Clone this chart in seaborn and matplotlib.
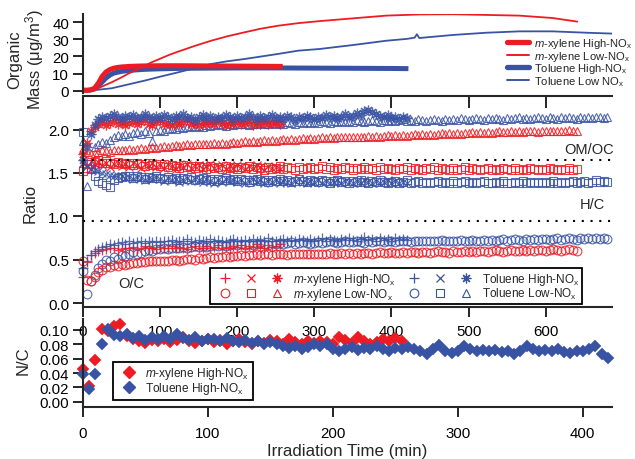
import numpy as np
import matplotlib
matplotlib.use("Agg")
import matplotlib.pyplot as plt
import seaborn as sns
from matplotlib.lines import Line2D
from matplotlib.legend_handler import HandlerTuple

RED = "#ED1C24"
BLUE = "#3953A4"

# ---------------- Organic mass (ug/m3), top axis time (min) ----------------
mass_mxh_t = [0, 5, 10, 15, 20, 25, 30, 35, 40, 45, 50, 60, 70, 80, 100, 130, 160, 200, 230, 259]
mass_mxh_v = [0.3, 0.2, 0.5, 1.5, 4.5, 8.5, 11.0, 12.4, 13.2, 13.6, 13.9, 14.2, 14.4, 14.5, 14.6, 14.6, 14.5, 14.4, 14.3, 14.2]
mass_th_t = [0, 5, 10, 15, 20, 25, 30, 35, 40, 50, 60, 80, 100, 130, 160, 200, 250, 300, 350, 400, 422]
mass_th_v = [0.3, 0.2, 0.4, 1.0, 2.8, 5.2, 7.5, 9.2, 10.3, 11.3, 11.9, 12.5, 12.8, 13.1, 13.2, 13.3, 13.3, 13.2, 13.1, 13.0, 12.9]
mass_mxl_t = [0, 13, 20, 30, 37, 50, 58, 70, 80, 90, 101, 112, 123, 145, 166, 187, 209, 231, 253, 279, 307,
              350, 393, 437, 480, 523, 566, 609, 641]
mass_mxl_v = [0.0, 0.0, 1.5, 3.5, 4.9, 7.8, 9.8, 12.4, 14.6, 16.8, 18.9, 21.0, 22.8, 26.2, 29.2, 31.8, 34.1, 36.3,
              38.0, 39.5, 40.7, 42.3, 43.9, 44.6, 44.7, 44.3, 43.9, 42.5, 40.4]
mass_tl_t = [0, 10, 20, 37, 60, 80, 100, 123, 145, 166, 187, 209, 231, 253, 279, 307, 350, 393, 420, 430, 433,
             436, 480, 523, 566, 609, 653, 686]
mass_tl_v = [0.0, 0.2, 0.6, 1.4, 3.8, 5.9, 8.2, 10.7, 13.2, 15.6, 17.2, 18.5, 20.0, 21.5, 23.4, 24.4, 26.7, 29.2,
             30.3, 31.0, 33.0, 30.8, 32.6, 33.9, 34.7, 34.7, 33.9, 33.4]

# ---------------- Elemental ratios, 5-min samples, top axis time ----------------
OC_mxh = [0.30, 0.47, 0.55, 0.58, 0.60, 0.61, 0.62, 0.64, 0.63, 0.61,
          0.62, 0.64, 0.63, 0.65, 0.62, 0.64, 0.66, 0.63, 0.64, 0.62,
          0.65, 0.63, 0.64, 0.66, 0.63, 0.65, 0.64, 0.62, 0.65, 0.66,
          0.64, 0.63, 0.66, 0.64, 0.65, 0.67, 0.64, 0.65, 0.63, 0.66,
          0.65, 0.67, 0.64, 0.66, 0.65, 0.68, 0.66, 0.64, 0.67, 0.65,
          0.66, 0.68]
HC_mxh = [1.62, 1.58, 1.55, 1.60, 1.63, 1.59, 1.61, 1.57, 1.60, 1.62,
          1.58, 1.60, 1.57, 1.61, 1.59, 1.56, 1.60, 1.58, 1.61, 1.57,
          1.59, 1.56, 1.60, 1.58, 1.55, 1.59, 1.57, 1.60, 1.56, 1.58,
          1.59, 1.55, 1.58, 1.60, 1.56, 1.57, 1.59, 1.55, 1.58, 1.56,
          1.59, 1.57, 1.55, 1.58, 1.56, 1.59, 1.57, 1.54, 1.58, 1.56,
          1.57, 1.55]
OMOC_mxh = [1.72, 1.85, 1.98, 2.03, 2.06, 2.09, 2.05, 2.08, 2.11, 2.06,
            2.09, 2.05, 2.08, 2.10, 2.06, 2.09, 2.12, 2.07, 2.05, 2.09,
            2.11, 2.06, 2.08, 2.05, 2.10, 2.07, 2.09, 2.12, 2.06, 2.08,
            2.05, 2.10, 2.07, 2.09, 2.06, 2.11, 2.08, 2.05, 2.09, 2.07,
            2.10, 2.06, 2.08, 2.11, 2.05, 2.09, 2.07, 2.10, 2.06, 2.08,
            2.09, 2.06]

OC_mxl = [0.48, 0.26, 0.25, 0.30, 0.36, 0.38, 0.42, 0.41, 0.44, 0.43,
          0.45, 0.44, 0.45, 0.46, 0.46, 0.47, 0.47, 0.48, 0.48, 0.49,
          0.49, 0.48, 0.49, 0.50, 0.50, 0.49, 0.50, 0.51, 0.51, 0.50,
          0.52, 0.51, 0.52, 0.53, 0.52, 0.53, 0.53, 0.54, 0.53, 0.54,
          0.54, 0.55, 0.54, 0.55, 0.55, 0.56, 0.55, 0.56, 0.56, 0.55,
          0.56, 0.57, 0.56, 0.55, 0.57, 0.56, 0.57, 0.56, 0.57, 0.57,
          0.56, 0.57, 0.57, 0.56, 0.58, 0.57, 0.57, 0.58, 0.57, 0.58,
          0.57, 0.58, 0.57, 0.58, 0.58, 0.57, 0.58, 0.59, 0.58, 0.58,
          0.59, 0.58, 0.58, 0.59, 0.58, 0.59, 0.59, 0.58, 0.59, 0.59,
          0.58, 0.59, 0.60, 0.59, 0.59, 0.58, 0.60, 0.59, 0.59, 0.60,
          0.59, 0.60, 0.59, 0.60, 0.60, 0.59, 0.60, 0.61, 0.60, 0.59,
          0.60, 0.61, 0.60, 0.60, 0.61, 0.60, 0.61, 0.60, 0.61, 0.61,
          0.60, 0.61, 0.62, 0.61, 0.60, 0.61, 0.62, 0.61, 0.60]
HC_mxl = [1.52, 1.56, 1.60, 1.63, 1.65, 1.62, 1.64, 1.61, 1.60, 1.63,
          1.62, 1.60, 1.61, 1.59, 1.62, 1.60, 1.58, 1.61, 1.59, 1.60,
          1.58, 1.60, 1.57, 1.59, 1.58, 1.56, 1.59, 1.57, 1.58, 1.56,
          1.58, 1.57, 1.55, 1.58, 1.56, 1.57, 1.55, 1.58, 1.56, 1.57,
          1.55, 1.57, 1.56, 1.58, 1.55, 1.57, 1.56, 1.54, 1.57, 1.55,
          1.56, 1.58, 1.55, 1.57, 1.56, 1.54, 1.57, 1.55, 1.56, 1.57,
          1.55, 1.56, 1.58, 1.55, 1.57, 1.54, 1.56, 1.55, 1.57, 1.56,
          1.54, 1.56, 1.55, 1.57, 1.55, 1.56, 1.54, 1.57, 1.55, 1.56,
          1.55, 1.53, 1.56, 1.55, 1.57, 1.54, 1.56, 1.55, 1.53, 1.56,
          1.55, 1.57, 1.54, 1.56, 1.55, 1.53, 1.56, 1.54, 1.55, 1.57,
          1.54, 1.56, 1.55, 1.53, 1.55, 1.56, 1.54, 1.55, 1.53, 1.56,
          1.55, 1.54, 1.56, 1.53, 1.55, 1.54, 1.56, 1.55, 1.53, 1.55,
          1.54, 1.56, 1.55, 1.53, 1.55, 1.54, 1.56, 1.54, 1.55]
OMOC_mxl = [1.78, 1.74, 1.72, 1.73, 1.74, 1.76, 1.75, 1.74, 1.76, 1.77,
            1.77, 1.76, 1.78, 1.77, 1.78, 1.79, 1.78, 1.79, 1.80, 1.79,
            1.80, 1.81, 1.80, 1.81, 1.82, 1.81, 1.82, 1.83, 1.82, 1.83,
            1.83, 1.84, 1.83, 1.84, 1.85, 1.84, 1.85, 1.84, 1.85, 1.86,
            1.85, 1.86, 1.87, 1.86, 1.87, 1.86, 1.87, 1.88, 1.87, 1.88,
            1.87, 1.88, 1.89, 1.88, 1.89, 1.88, 1.89, 1.90, 1.89, 1.90,
            1.89, 1.90, 1.91, 1.90, 1.91, 1.90, 1.91, 1.92, 1.91, 1.92,
            1.91, 1.92, 1.91, 1.92, 1.93, 1.92, 1.93, 1.92, 1.93, 1.94,
            1.93, 1.94, 1.93, 1.94, 1.93, 1.94, 1.95, 1.94, 1.95, 1.94,
            1.95, 1.94, 1.95, 1.96, 1.95, 1.96, 1.95, 1.96, 1.95, 1.96,
            1.96, 1.97, 1.96, 1.97, 1.96, 1.97, 1.96, 1.97, 1.98, 1.97,
            1.97, 1.98, 1.97, 1.98, 1.97, 1.98, 1.99, 1.98, 1.97, 1.98,
            1.98, 1.99, 1.98, 1.99, 1.98, 1.99, 2.00, 1.99, 1.99]

OC_th = [0.40, 0.48, 0.55, 0.60, 0.62, 0.65, 0.66, 0.68, 0.67, 0.69,
         0.70, 0.68, 0.71, 0.69, 0.70, 0.72, 0.69, 0.71, 0.70, 0.72,
         0.70, 0.72, 0.71, 0.73, 0.70, 0.72, 0.71, 0.74, 0.72, 0.70,
         0.73, 0.71, 0.72, 0.74, 0.71, 0.73, 0.72, 0.70, 0.73, 0.74,
         0.72, 0.71, 0.73, 0.72, 0.74, 0.71, 0.73, 0.72, 0.75, 0.72,
         0.71, 0.73, 0.74, 0.72, 0.73, 0.71, 0.74, 0.73, 0.72, 0.74,
         0.72, 0.73, 0.75, 0.72, 0.74, 0.73, 0.71, 0.74, 0.73, 0.75,
         0.73, 0.72, 0.74, 0.76, 0.73, 0.74, 0.72, 0.75, 0.73, 0.74,
         0.72, 0.75, 0.73, 0.74, 0.73]
HC_th = [1.62, 1.58, 1.55, 1.53, 1.52, 1.50, 1.49, 1.48, 1.47, 1.46,
         1.46, 1.44, 1.45, 1.43, 1.45, 1.44, 1.42, 1.44, 1.43, 1.45,
         1.43, 1.41, 1.44, 1.42, 1.43, 1.40, 1.42, 1.44, 1.41, 1.43,
         1.42, 1.40, 1.43, 1.41, 1.39, 1.42, 1.40, 1.43, 1.41, 1.42,
         1.40, 1.42, 1.39, 1.41, 1.43, 1.40, 1.42, 1.39, 1.41, 1.40,
         1.42, 1.39, 1.41, 1.40, 1.38, 1.41, 1.43, 1.40, 1.39, 1.41,
         1.40, 1.42, 1.39, 1.41, 1.38, 1.40, 1.42, 1.39, 1.41, 1.40,
         1.38, 1.41, 1.39, 1.42, 1.40, 1.38, 1.41, 1.39, 1.40, 1.42,
         1.39, 1.41, 1.38, 1.40, 1.39]
OMOC_th = [1.65, 1.80, 1.95, 2.05, 2.12, 2.15, 2.13, 2.16, 2.18, 2.14,
           2.12, 2.16, 2.14, 2.17, 2.13, 2.15, 2.18, 2.14, 2.12, 2.16,
           2.13, 2.17, 2.15, 2.12, 2.16, 2.14, 2.18, 2.13, 2.15, 2.11,
           2.14, 2.17, 2.13, 2.16, 2.12, 2.15, 2.13, 2.17, 2.14, 2.12,
           2.16, 2.13, 2.15, 2.18, 2.14, 2.12, 2.16, 2.13, 2.15, 2.17,
           2.13, 2.15, 2.12, 2.16, 2.14, 2.11, 2.15, 2.13, 2.16, 2.14,
           2.12, 2.15, 2.13, 2.17, 2.14, 2.16, 2.13, 2.15, 2.18, 2.14,
           2.16, 2.19, 2.17, 2.21, 2.23, 2.20, 2.18, 2.16, 2.14, 2.17,
           2.13, 2.15, 2.12, 2.14, 2.13]

OC_tl = [0.37, 0.10, 0.25, 0.32, 0.40, 0.45, 0.50, 0.48, 0.53, 0.51,
         0.55, 0.54, 0.57, 0.59, 0.56, 0.58, 0.60, 0.61, 0.60, 0.62,
         0.62, 0.63, 0.62, 0.64, 0.63, 0.64, 0.65, 0.64, 0.65, 0.66,
         0.65, 0.66, 0.65, 0.66, 0.67, 0.66, 0.67, 0.66, 0.67, 0.68,
         0.67, 0.68, 0.67, 0.68, 0.67, 0.68, 0.69, 0.68, 0.67, 0.69,
         0.68, 0.69, 0.68, 0.69, 0.70, 0.68, 0.69, 0.70, 0.69, 0.68,
         0.69, 0.70, 0.69, 0.70, 0.71, 0.70, 0.69, 0.70, 0.71, 0.70,
         0.70, 0.71, 0.70, 0.69, 0.71, 0.70, 0.71, 0.72, 0.70, 0.71,
         0.71, 0.70, 0.71, 0.72, 0.71, 0.70, 0.72, 0.71, 0.72, 0.71,
         0.72, 0.71, 0.72, 0.73, 0.71, 0.72, 0.71, 0.72, 0.73, 0.72,
         0.72, 0.73, 0.72, 0.71, 0.73, 0.72, 0.73, 0.72, 0.73, 0.74,
         0.72, 0.73, 0.74, 0.73, 0.72, 0.74, 0.73, 0.74, 0.73, 0.74,
         0.74, 0.73, 0.74, 0.75, 0.73, 0.74, 0.75, 0.74, 0.73, 0.75,
         0.74, 0.75, 0.74, 0.75, 0.74, 0.75, 0.74]
HC_tl = [1.97, 1.60, 1.55, 1.47, 1.41, 1.39, 1.36, 1.34, 1.42, 1.44,
         1.45, 1.47, 1.46, 1.44, 1.46, 1.45, 1.43, 1.45, 1.44, 1.46,
         1.44, 1.43, 1.45, 1.43, 1.44, 1.42, 1.44, 1.43, 1.45, 1.42,
         1.43, 1.44, 1.42, 1.43, 1.41, 1.43, 1.42, 1.44, 1.42, 1.43,
         1.41, 1.43, 1.42, 1.40, 1.42, 1.43, 1.41, 1.42, 1.40, 1.42,
         1.41, 1.43, 1.41, 1.42, 1.40, 1.41, 1.43, 1.41, 1.40, 1.42,
         1.41, 1.40, 1.42, 1.41, 1.39, 1.41, 1.42, 1.40, 1.41, 1.39,
         1.41, 1.40, 1.42, 1.40, 1.39, 1.41, 1.40, 1.42, 1.40, 1.39,
         1.40, 1.41, 1.39, 1.40, 1.42, 1.39, 1.40, 1.41, 1.39, 1.40,
         1.38, 1.40, 1.41, 1.39, 1.40, 1.38, 1.41, 1.39, 1.40, 1.41,
         1.39, 1.40, 1.38, 1.40, 1.41, 1.39, 1.38, 1.40, 1.39, 1.41,
         1.39, 1.38, 1.40, 1.39, 1.41, 1.38, 1.40, 1.39, 1.40, 1.38,
         1.40, 1.39, 1.41, 1.39, 1.40, 1.38, 1.40, 1.41, 1.39, 1.40,
         1.41, 1.39, 1.40, 1.42, 1.40, 1.41, 1.40]
OMOC_tl = [1.87, 1.35, 1.60, 1.80, 1.84, 1.86, 1.85, 1.88, 1.92, 1.94,
           1.93, 1.95, 1.93, 1.96, 1.97, 1.95, 1.98, 1.96, 1.87, 1.99,
           2.00, 1.99, 2.01, 2.02, 2.01, 2.03, 2.02, 2.03, 2.04, 2.03,
           2.04, 2.03, 2.05, 2.04, 2.05, 2.06, 2.05, 2.04, 2.06, 2.05,
           2.06, 2.07, 2.06, 2.05, 2.07, 2.06, 2.08, 2.07, 2.06, 2.08,
           2.07, 2.08, 2.07, 2.09, 2.08, 2.07, 2.09, 2.08, 2.09, 2.08,
           2.09, 2.08, 2.10, 2.09, 2.08, 2.10, 2.09, 2.10, 2.09, 2.10,
           2.09, 2.11, 2.10, 2.09, 2.10, 2.11, 2.10, 2.09, 2.11, 2.10,
           2.11, 2.10, 2.11, 2.12, 2.10, 2.11, 2.10, 2.12, 2.11, 2.10,
           2.11, 2.12, 2.11, 2.10, 2.12, 2.11, 2.12, 2.11, 2.13, 2.12,
           2.11, 2.12, 2.13, 2.12, 2.11, 2.13, 2.12, 2.13, 2.12, 2.11,
           2.13, 2.12, 2.13, 2.14, 2.12, 2.13, 2.12, 2.13, 2.14, 2.13,
           2.12, 2.14, 2.13, 2.12, 2.14, 2.13, 2.14, 2.13, 2.12, 2.14,
           2.13, 2.14, 2.13, 2.15, 2.14, 2.13, 2.14]

# ---------------- N/C, 5-min samples, bottom axis time ----------------
NC_mxh = [0.045, 0.022, 0.058, 0.101, 0.098, 0.106, 0.108, 0.092, 0.088, 0.085,
          0.082, 0.086, 0.084, 0.088, 0.083, 0.086, 0.090, 0.084, 0.082, 0.085,
          0.087, 0.083, 0.086, 0.081, 0.084, 0.088, 0.083, 0.080, 0.085, 0.082,
          0.086, 0.084, 0.081, 0.087, 0.083, 0.080, 0.084, 0.082, 0.085, 0.083,
          0.081, 0.090, 0.086, 0.082, 0.090, 0.085, 0.081, 0.083, 0.087, 0.084,
          0.089, 0.085]
NC_th = [0.038, 0.018, 0.038, 0.080, 0.101, 0.093, 0.091, 0.094, 0.089, 0.092,
         0.086, 0.090, 0.087, 0.091, 0.088, 0.094, 0.089, 0.086, 0.090, 0.085,
         0.088, 0.087, 0.084, 0.089, 0.085, 0.083, 0.086, 0.082, 0.085, 0.081,
         0.083, 0.080, 0.078, 0.075, 0.077, 0.074, 0.076, 0.080, 0.078, 0.081,
         0.074, 0.070, 0.073, 0.076, 0.072, 0.075, 0.073, 0.078, 0.074, 0.071,
         0.075, 0.073, 0.076, 0.074, 0.070, 0.067, 0.073, 0.079, 0.070, 0.068,
         0.071, 0.077, 0.074, 0.071, 0.072, 0.070, 0.072, 0.069, 0.071, 0.066,
         0.070, 0.078, 0.074, 0.071, 0.072, 0.070, 0.073, 0.069, 0.068, 0.071,
         0.070, 0.073, 0.077, 0.067, 0.061]

t_mxh = 5 * np.arange(len(OC_mxh))
t_mxl = 5 * np.arange(len(OC_mxl))
t_th = 5 * np.arange(len(OC_th))
t_tl = 5 * np.arange(len(OC_tl))
tnc_mxh = 5 * np.arange(len(NC_mxh))
tnc_th = 5 * np.arange(len(NC_th))

lab_mxh = r"$\mathit{m}$-xylene High-NO$_\mathrm{x}$"
lab_mxl = r"$\mathit{m}$-xylene Low-NO$_\mathrm{x}$"
lab_th = r"Toluene High-NO$_\mathrm{x}$"
lab_tl = r"Toluene Low-NO$_\mathrm{x}$"
lab_tl_mass = r"Toluene Low NO$_\mathrm{x}$"

# ---------------- style ----------------
sns.set_style("ticks")
plt.rcParams["font.family"] = ["Liberation Sans", "DejaVu Sans"]
plt.rcParams["mathtext.fontset"] = "custom"
plt.rcParams["mathtext.rm"] = "Liberation Sans"
plt.rcParams["mathtext.it"] = "Liberation Sans:italic"
plt.rcParams["mathtext.bf"] = "Liberation Sans:bold"
plt.rcParams["axes.linewidth"] = 1.5

fig = plt.figure(figsize=(6.35, 4.6), dpi=100)


def fx(px):
    return px / 635.0


def fy(py):
    return 1 - py / 460.0


L, R = 83, 612
W = fx(R) - fx(L)
ax_mass = fig.add_axes([fx(L), fy(97), W, fy(15) - fy(97)])
ax_ratio = fig.add_axes([fx(L), fy(308), W, fy(97) - fy(308)])
ax_nc = fig.add_axes([fx(L), fy(408), W, fy(320) - fy(408)])
for ax in (ax_mass, ax_ratio, ax_nc):
    ax.patch.set_alpha(0)
    ax.spines["top"].set_visible(False)
    ax.spines["right"].set_visible(False)
    for s in ("left", "bottom"):
        ax.spines[s].set_linewidth(1.5)
    ax.tick_params(axis="both", direction="out", length=7.5, width=1.2,
                   labelsize=10.8, colors="k", pad=2.5)

# ---------------- mass panel ----------------
sns.lineplot(x=mass_th_t, y=mass_th_v, ax=ax_mass, color=BLUE, linewidth=3.6, solid_capstyle="butt")
sns.lineplot(x=mass_tl_t, y=mass_tl_v, ax=ax_mass, color=BLUE, linewidth=1.3)
sns.lineplot(x=mass_mxl_t, y=mass_mxl_v, ax=ax_mass, color=RED, linewidth=1.3)
sns.lineplot(x=mass_mxh_t, y=mass_mxh_v, ax=ax_mass, color=RED, linewidth=3.6, solid_capstyle="butt")
ax_mass.set_xlim(0, 686)
ax_mass.set_ylim(-3.1, 44.85)
ax_mass.spines["left"].set_bounds(-1.35, 44.85)
ax_mass.set_yticks([0, 10, 20, 30, 40])
ax_mass.set_xticks(range(0, 700, 100))
ax_mass.tick_params(axis="x", labelbottom=False, length=8.5)
ax_mass.set_xlabel("")
ax_mass.set_ylabel("")

mass_handles = [Line2D([], [], color=RED, lw=3.8), Line2D([], [], color=RED, lw=1.4),
                Line2D([], [], color=BLUE, lw=3.8), Line2D([], [], color=BLUE, lw=1.4)]
fig.legend(mass_handles, [lab_mxh, lab_mxl, lab_th, lab_tl_mass], loc="upper left",
           bbox_to_anchor=(fx(507), fy(37)), bbox_transform=fig.transFigure,
           frameon=False, fontsize=8.1, handlelength=1.95, handletextpad=0.45,
           labelspacing=-0.12, borderpad=0, borderaxespad=0)

# ---------------- ratio panel ----------------
def pts(ax, t, v, color, marker, ms=6.3, mew=0.8):
    sns.lineplot(x=t, y=v, ax=ax, color=color, marker=marker, linestyle="none",
                 markersize=ms, markerfacecolor="none", markeredgecolor=color,
                 markeredgewidth=mew, clip_on=False, alpha=0.85)

STAR = (8, 2, 0)
pts(ax_ratio, t_tl, OC_tl, BLUE, "o")
pts(ax_ratio, t_tl, HC_tl, BLUE, "s")
pts(ax_ratio, t_tl, OMOC_tl, BLUE, "^")
pts(ax_ratio, t_mxl, OC_mxl, RED, "o")
pts(ax_ratio, t_mxl, HC_mxl, RED, "s")
pts(ax_ratio, t_mxl, OMOC_mxl, RED, "^")
pts(ax_ratio, t_mxh, OC_mxh, RED, "+", ms=7, mew=0.9)
pts(ax_ratio, t_mxh, HC_mxh, RED, "x", ms=6, mew=0.9)
pts(ax_ratio, t_mxh, OMOC_mxh, RED, STAR, ms=7, mew=0.9)
pts(ax_ratio, t_th, OC_th, BLUE, "+", ms=7, mew=0.9)
pts(ax_ratio, t_th, HC_th, BLUE, "x", ms=6, mew=0.9)
pts(ax_ratio, t_th, OMOC_th, BLUE, STAR, ms=7, mew=0.9)

ax_ratio.axhline(1.65, color="k", linestyle=(0, (1, 3.2)), linewidth=1.5, zorder=4)
ax_ratio.axhline(0.95, color="k", linestyle=(0, (1, 3.2)), linewidth=1.5, zorder=4)
ax_ratio.set_xlim(0, 686)
ax_ratio.set_ylim(-0.046, 2.388)
ax_ratio.set_yticks([0.0, 0.5, 1.0, 1.5, 2.0])
ax_ratio.set_yticklabels(["0.0", "0.5", "1.0", "1.5", "2.0"])
ax_ratio.set_xticks(range(0, 700, 100))
ax_ratio.tick_params(axis="x", pad=5)
ax_ratio.set_xlabel("")
ax_ratio.set_ylabel("")
ax_ratio.text(656, 1.776, "OM/OC", fontsize=10.5, ha="center", va="center")
ax_ratio.text(661, 1.14, "H/C", fontsize=10.5, ha="center", va="center")
ax_ratio.text(62, 0.23, "O/C", fontsize=10.5, ha="center", va="center")


def mk(marker, color, ms=6.3, mew=0.8):
    return Line2D([], [], marker=marker, linestyle="none", color=color, markersize=ms,
                  markerfacecolor="none", markeredgecolor=color, markeredgewidth=mew)


h_mxh = (mk("+", RED, 7, 0.9), mk("x", RED, 6, 0.9), mk(STAR, RED, 7, 0.9))
h_mxl = (mk("o", RED), mk("s", RED), mk("^", RED))
h_th = (mk("+", BLUE, 7, 0.9), mk("x", BLUE, 6, 0.9), mk(STAR, BLUE, 7, 0.9))
h_tl = (mk("o", BLUE), mk("s", BLUE), mk("^", BLUE))
leg = ax_ratio.legend([h_mxh, h_mxl, h_th, h_tl], [lab_mxh, lab_mxl, lab_th, lab_tl], ncol=2,
                      handler_map={tuple: HandlerTuple(ndivide=None, pad=0)},
                      loc="lower left", bbox_to_anchor=(fx(210), fy(305)),
                      bbox_transform=fig.transFigure, borderaxespad=0, frameon=True,
                      fancybox=False, edgecolor="k", framealpha=1, fontsize=8.5,
                      handlelength=6.6, handletextpad=0.2, columnspacing=0.5,
                      borderpad=0.2, labelspacing=-0.08, handleheight=0.6)
leg.get_frame().set_linewidth(1.3)

# ---------------- N/C panel ----------------
sns.lineplot(x=tnc_mxh, y=NC_mxh, ax=ax_nc, color=RED, marker="D", linestyle="none",
             markersize=6.4, markeredgecolor=RED, markeredgewidth=0.3, clip_on=False)
sns.lineplot(x=tnc_th, y=NC_th, ax=ax_nc, color=BLUE, marker="D", linestyle="none",
             markersize=6.4, markeredgecolor=BLUE, markeredgewidth=0.3, clip_on=False)
ax_nc.set_xlim(0, 423.4)
ax_nc.set_ylim(-0.0074, 0.1153)
ax_nc.set_yticks([0.0, 0.02, 0.04, 0.06, 0.08, 0.10])
ax_nc.set_yticklabels(["0.00", "0.02", "0.04", "0.06", "0.08", "0.10"])
ax_nc.set_xticks([0, 100, 200, 300, 400])
ax_nc.tick_params(axis="x", pad=6)
ax_nc.set_xlabel("")
ax_nc.set_ylabel("")
nc_handles = [Line2D([], [], marker="D", linestyle="none", color=RED, markersize=6.4),
              Line2D([], [], marker="D", linestyle="none", color=BLUE, markersize=6.4)]
leg2 = ax_nc.legend(nc_handles, [lab_mxh, lab_th], loc="lower left",
                    bbox_to_anchor=(fx(113), fy(401)), bbox_transform=fig.transFigure,
                    borderaxespad=0, frameon=True, fancybox=False, edgecolor="k",
                    framealpha=1, fontsize=8.6, handlelength=2.15, handletextpad=0.25,
                    borderpad=0.3, labelspacing=-0.06, handleheight=0.6)
leg2.get_frame().set_linewidth(1.3)

# ---------------- axis titles ----------------
fig.text(fx(27), fy(60), "Organic\nMass (\u03bcg/m$^3$)", rotation=90, ha="center", va="center",
         multialignment="center", fontsize=12, linespacing=1.05)
fig.text(fx(30), fy(203), "Ratio", rotation=90, ha="center", va="center", fontsize=12)
fig.text(fx(23), fy(361), "N/C", rotation=90, ha="center", va="center", fontsize=12)
fig.text(fx(347), fy(452), "Irradiation Time (min)", ha="center", va="center", fontsize=12.2)

fig.savefig("out.png", dpi=100)
